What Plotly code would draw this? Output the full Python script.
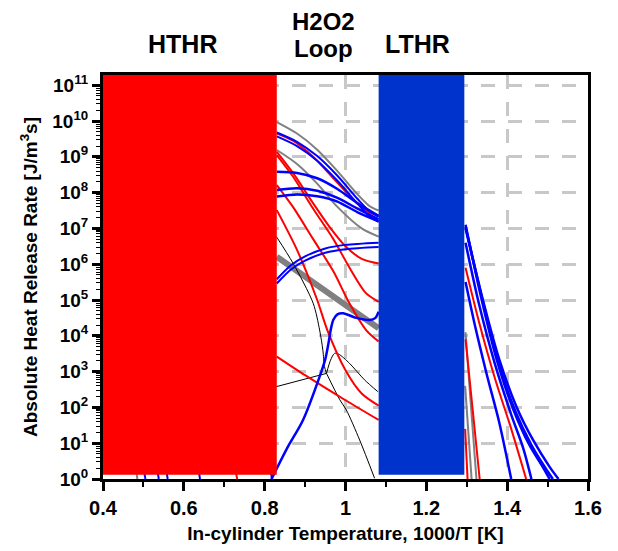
import plotly.graph_objects as go

# ---------------- data (x = 1000/T [1/K], values given as log10 of HRR) ----------------
# boxes (regions)
hthr_box_x = [0.40, 0.830]
ltr_box_x = [1.082, 1.294]
box_log_y = [0.12, 11.4]

# --- H2O2 loop region curves ---
gray1_x = [0.83, 0.88, 0.93, 0.98, 1.03, 1.06, 1.082]
gray1_l = [9.97, 9.65, 9.20, 8.60, 7.95, 7.62, 7.50]
gray2_x = [0.83, 0.88, 0.93, 0.98, 1.04, 1.082]
gray2_l = [9.19, 8.80, 8.25, 7.60, 7.00, 6.77]
graythick_x = [0.83, 0.977, 1.082]
graythick_l = [6.21, 5.04, 4.21]

red1_x = [0.83, 0.87, 0.92, 0.97, 1.02, 1.05, 1.082]
red1_l = [9.65, 9.45, 9.00, 8.40, 7.80, 7.50, 7.35]
red2_x = [0.83, 0.87, 0.92, 0.96, 1.00, 1.04, 1.082]
red2_l = [9.14, 8.55, 7.70, 7.05, 6.50, 6.15, 6.02]
red3_x = [0.83, 0.87, 0.92, 0.97, 1.01, 1.05, 1.082]
red3_l = [9.05, 8.45, 7.55, 6.70, 5.90, 5.20, 4.95]
red4_x = [0.83, 0.87, 0.92, 0.97, 1.01, 1.051, 1.082]
red4_l = [8.21, 7.60, 6.70, 5.80, 4.90, 4.16, 3.84]
red5_x = [0.83, 0.88, 0.93, 0.955, 1.00, 1.04, 1.082]
red5_l = [7.51, 6.40, 5.00, 4.16, 3.04, 2.39, 2.05]
red6_x = [0.83, 0.90, 1.00, 1.082]
red6_l = [3.42, 2.90, 2.20, 1.65]

blue1_x = [0.83, 0.88, 0.93, 0.98, 1.03, 1.06, 1.082]
blue1_l = [9.68, 9.42, 9.02, 8.47, 7.82, 7.47, 7.32]
blue2_x = [0.83, 0.88, 0.93, 0.98, 1.03, 1.06, 1.082]
blue2_l = [9.57, 9.30, 8.89, 8.33, 7.69, 7.33, 7.18]
blue3_x = [0.83, 0.88, 0.93, 0.98, 1.03, 1.082]
blue3_l = [8.58, 8.55, 8.40, 8.10, 7.70, 7.35]
blue4_x = [0.83, 0.88, 0.93, 0.98, 1.03, 1.082]
blue4_l = [8.07, 8.12, 8.05, 7.85, 7.55, 7.25]
blue5_x = [0.83, 0.88, 0.93, 0.98, 1.03, 1.082]
blue5_l = [7.89, 7.95, 7.90, 7.75, 7.45, 7.20]
blue6_x = [0.83, 0.865, 0.90, 0.95, 1.00, 1.082]
blue6_l = [5.58, 5.97, 6.22, 6.44, 6.54, 6.60]
blue7_x = [0.83, 0.865, 0.90, 0.95, 1.00, 1.082]
blue7_l = [5.46, 5.85, 6.10, 6.32, 6.42, 6.48]
blue8_x = [0.817, 0.855, 0.895, 0.936, 0.950, 0.958, 0.964, 0.970, 0.980, 0.994, 1.027, 1.06, 1.074, 1.082]
blue8_l = [0.00, 0.85, 1.65, 2.86, 3.35, 3.80, 4.20, 4.45, 4.60, 4.63, 4.50, 4.44, 4.50, 4.67]

black1_x = [0.829, 0.870, 0.920, 0.936, 0.944, 0.948, 0.953]
black1_l = [6.77, 6.03, 4.91, 4.16, 3.60, 3.14, 2.95]
black2_x = [0.829, 0.953]
black2_l = [2.58, 2.95]
black3_x = [0.953, 0.986, 1.002, 1.035, 1.072]
black3_l = [2.95, 2.21, 1.93, 1.09, 0.02]
black4_x = [0.953, 0.963, 0.973, 0.983, 1.010, 1.047, 1.080]
black4_l = [2.95, 3.32, 3.51, 3.49, 3.23, 2.77, 2.44]

# --- tails of high-temperature curves just below the HTHR box ---
tail_blue_x = [[0.495, 0.505], [0.530, 0.538], [0.552, 0.560], [0.632, 0.640], [0.810, 0.818]]
tail_blue_l = [[0.6, 0.0], [0.6, 0.0], [0.6, 0.0], [0.6, 0.0], [0.6, 0.0]]
tail_gray_x = [[0.478, 0.485]]
tail_gray_l = [[0.6, 0.0]]
tail_red_x = [[0.722, 0.732]]
tail_red_l = [[0.6, 0.0]]

# --- right (low temperature) region curves ---
rblue1_x = [1.297, 1.340, 1.381, 1.423, 1.464, 1.505, 1.527]
rblue1_l = [7.00, 5.00, 3.32, 2.02, 1.09, 0.34, 0.00]
rblue2_x = [1.297, 1.340, 1.380, 1.420, 1.460, 1.495, 1.513]
rblue2_l = [7.05, 4.95, 3.20, 1.90, 0.95, 0.30, 0.00]
rblue3_x = [1.297, 1.335, 1.375, 1.415, 1.455, 1.490, 1.505]
rblue3_l = [7.10, 5.10, 3.30, 1.95, 0.95, 0.30, 0.00]
rblue4_x = [1.297, 1.330, 1.370, 1.410, 1.440, 1.460]
rblue4_l = [6.60, 4.90, 3.20, 1.80, 0.85, 0.00]
rblue5_x = [1.297, 1.320, 1.350, 1.380, 1.410]
rblue5_l = [5.50, 4.30, 2.90, 1.60, 0.00]
rred1_x = [1.297, 1.330, 1.370, 1.410, 1.447]
rred1_l = [5.90, 4.40, 2.80, 1.40, 0.00]
rred2_x = [1.297, 1.315, 1.332]
rred2_l = [3.90, 1.90, 0.00]
rred3_x = [1.296, 1.302]
rred3_l = [1.40, 0.00]
rgray1_x = [1.297, 1.310, 1.324]
rgray1_l = [4.10, 2.10, 0.00]
rgray2_x = [1.296, 1.312]
rgray2_l = [2.60, 0.00]

# axis tick labels
y_tick_exps = list(range(0, 12))
y_tick_text = ["10<sup>%d</sup>" % e for e in y_tick_exps]
x_tick_vals = [0.4, 0.6, 0.8, 1.0, 1.2, 1.4, 1.6]
x_tick_text = ["0.4", "0.6", "0.8", "1", "1.2", "1.4", "1.6"]

region_labels = ["HTHR", "H2O2", "Loop", "LTHR"]

# ---------------- figure ----------------
RED = "#ff0000"
BLUE = "#0000ff"
GRAY = "#808080"
BLACK = "#000000"

fig = go.Figure()


def curve(xs, ls, color, width):
    fig.add_trace(go.Scatter(
        x=xs, y=[10 ** v for v in ls], mode="lines",
        line=dict(color=color, width=width, shape="spline", smoothing=0.8),
        showlegend=False, hoverinfo="skip"))


curve(graythick_x, graythick_l, GRAY, 6)
for xs, ls in [(gray1_x, gray1_l), (gray2_x, gray2_l), (rgray1_x, rgray1_l), (rgray2_x, rgray2_l)]:
    curve(xs, ls, GRAY, 2)
for xs, ls in zip(tail_gray_x, tail_gray_l):
    curve(xs, ls, GRAY, 2)
for xs, ls in [(black1_x, black1_l), (black2_x, black2_l), (black3_x, black3_l), (black4_x, black4_l)]:
    curve(xs, ls, BLACK, 1)
for xs, ls in [(red1_x, red1_l), (red2_x, red2_l), (red3_x, red3_l), (red4_x, red4_l),
               (red5_x, red5_l), (red6_x, red6_l), (rred1_x, rred1_l), (rred2_x, rred2_l),
               (rred3_x, rred3_l)]:
    curve(xs, ls, RED, 2)
for xs, ls in zip(tail_red_x, tail_red_l):
    curve(xs, ls, RED, 2)
for xs, ls in [(blue3_x, blue3_l), (blue4_x, blue4_l), (blue5_x, blue5_l), (blue8_x, blue8_l),
               (rblue1_x, rblue1_l), (rblue2_x, rblue2_l), (rblue3_x, rblue3_l),
               (rblue4_x, rblue4_l), (rblue5_x, rblue5_l)]:
    curve(xs, ls, BLUE, 2.5)
for xs, ls in [(blue1_x, blue1_l), (blue2_x, blue2_l), (blue6_x, blue6_l), (blue7_x, blue7_l)]:
    curve(xs, ls, BLUE, 2)
for xs, ls in zip(tail_blue_x, tail_blue_l):
    curve(xs, ls, BLUE, 2)


def box(xr, color):
    lo, hi = 10 ** box_log_y[0], 10 ** box_log_y[1]
    fig.add_trace(go.Scatter(
        x=[xr[0], xr[1], xr[1], xr[0], xr[0]], y=[lo, lo, hi, hi, lo],
        mode="lines", fill="toself", fillcolor=color, line=dict(width=0, color=color),
        showlegend=False, hoverinfo="skip"))


box(hthr_box_x, "#ff0000")
box(ltr_box_x, "#0033cc")

FONT = "Liberation Sans, Arial, sans-serif"
ann_sizes = [25, 24, 24, 25]
ann_pos = [(0.597, 1.077), (0.946, 1.1324), (0.946, 1.0656), (1.178, 1.077)]
for txt, sz, (ax_, ay_) in zip(region_labels, ann_sizes, ann_pos):
    fig.add_annotation(x=ax_, y=ay_, xref="x", yref="paper", text=txt, showarrow=False,
                       font=dict(family=FONT, size=sz, color="black", weight="bold"),
                       xanchor="center", yanchor="middle", borderpad=0)

grid_kw = dict(showgrid=True, gridcolor="#c8c8c8", gridwidth=3, griddash="14px,13px")

fig.update_xaxes(
    range=[0.4, 1.6], tickmode="array", tickvals=x_tick_vals, ticktext=x_tick_text,
    ticks="outside", ticklen=9, tickwidth=2.5, tickcolor="black",
    minor=dict(ticks="outside", ticklen=5, tickwidth=2, tickcolor="black", dtick=0.1, tick0=0.4, showgrid=False),
    showline=True, linewidth=3, linecolor="black", mirror=True, zeroline=False,
    automargin=False,
    tickfont=dict(family=FONT, size=20, color="black", weight="bold"),
    title=dict(text="In-cylinder Temperature, 1000/T [K]",
               font=dict(family=FONT, size=19, color="black", weight="bold"), standoff=9),
    **grid_kw)

fig.update_yaxes(
    type="log", range=[0, 11.285], tickmode="array",
    tickvals=[10 ** e for e in y_tick_exps], ticktext=y_tick_text,
    ticks="outside", ticklen=8, tickwidth=2.5, tickcolor="black",
    minor=dict(ticks="outside", ticklen=4, tickwidth=1, tickcolor="black", dtick="D1", showgrid=False),
    showline=True, linewidth=3, linecolor="black", mirror=True, zeroline=False,
    automargin=False,
    tickfont=dict(family=FONT, size=19, color="black", weight="bold"),
    title=dict(text="Absolute Heat Release Rate [J/m<sup>3</sup>s]",
               font=dict(family=FONT, size=19, color="black", weight="bold"), standoff=10),
    **grid_kw)

fig.update_layout(
    width=610, height=543, plot_bgcolor="white", paper_bgcolor="white",
    margin=dict(l=95, r=30, t=67, b=72), showlegend=False)

fig.write_html("out.html")
